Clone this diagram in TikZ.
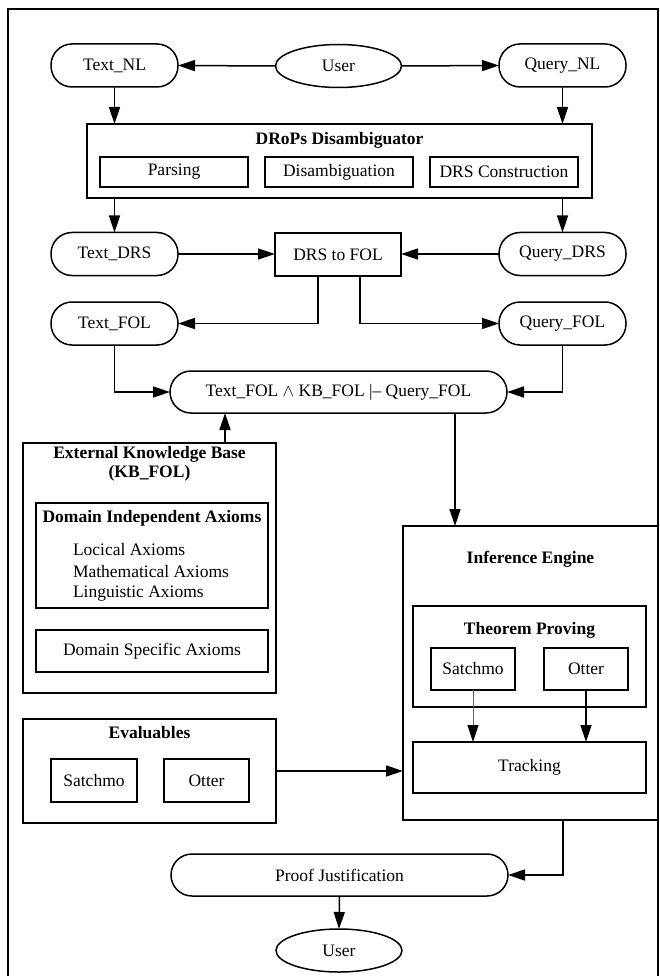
\documentclass[tikz,border=0pt]{standalone}
\usepackage{fontspec}
\setmainfont{Liberation Serif}
\usetikzlibrary{arrows.meta,shapes.geometric}

\begin{document}
\begin{tikzpicture}[x=1pt,y=-1pt,
  font=\fontsize{17.5}{19}\selectfont,
  every node/.style={inner sep=0pt, outer sep=0pt},
  arr/.style={line width=1.5pt, -{Triangle[length=17pt,width=11pt]}},
  pill/.style={draw, line width=1.5pt, rounded corners=21pt, minimum width=127pt, minimum height=43pt},
  oval/.style={draw, ellipse, line width=1.5pt, minimum width=126pt, minimum height=43pt},
  box/.style={draw, rectangle, line width=1.5pt},
  ttl/.style={font=\fontsize{17.5}{19}\selectfont\bfseries},
]
\useasboundingbox (0,0) rectangle (659,976);
\clip (0,0) rectangle (659,976);

% outer frame
\draw[line width=2pt] (8,990) -- (8,9) -- (657.5,9) -- (657.5,990);

% natural language inputs
\node[oval] (user) at (338.5,66) {User};
\node[pill] (textNL) at (114.5,65.5) {Text\_NL};
\node[pill] (queryNL) at (562.5,65.5) {Query\_NL};

% disambiguator
\node[box, minimum width=505pt, minimum height=74pt] (drops) at (339.5,161) {};
\node[ttl] (dropsT) at (339.5,140) {DRoPs Disambiguator};
\node[box, minimum width=148pt, minimum height=30pt] (parsing) at (174,172) {Parsing};
\node[box, minimum width=148pt, minimum height=30pt] (disamb) at (339,172) {Disambiguation};
\node[box, minimum width=148pt, minimum height=30pt] (drscons) at (504,172) {DRS Construction};

% DRS and FOL representations
\node[pill] (textDRS) at (114.5,254) {Text\_DRS};
\node[box, minimum width=126pt, minimum height=43pt] (drs2fol) at (338,254.5) {DRS to FOL};
\node[pill] (queryDRS) at (562.5,254) {Query\_DRS};
\node[pill] (textFOL) at (114.5,323.5) {Text\_FOL};
\node[pill] (queryFOL) at (562.5,323.5) {Query\_FOL};
\node[pill, minimum width=337pt, minimum height=42pt] (ent) at (338.5,392)
  {Text\_FOL $\wedge$ KB\_FOL |-- Query\_FOL};

% external knowledge base
\node[box, minimum width=253pt, minimum height=250pt] (kb) at (149.5,568) {};
\node[ttl, align=center] (kbT) at (149.5,464) {External Knowledge Base\\(KB\_FOL)};
\node[box, minimum width=232pt, minimum height=105pt] (di) at (152,555.5) {};
\node[ttl] (diT) at (152,518) {Domain Independent Axioms};
\node[anchor=west] (ax1) at (73,550) {Locical Axioms};
\node[anchor=west] (ax2) at (73,572) {Mathematical Axioms};
\node[anchor=west] (ax3) at (73,594) {Linguistic Axioms};
\node[box, minimum width=232pt, minimum height=42pt] (ds) at (152,651) {Domain Specific Axioms};

% evaluables
\node[box, minimum width=253pt, minimum height=104pt] (ev) at (149.5,771) {};
\node[ttl] (evT) at (149.5,733) {Evaluables};
\node[box, minimum width=86pt, minimum height=43pt] (evS) at (94,780.5) {Satchmo};
\node[box, minimum width=85pt, minimum height=43pt] (evO) at (206.5,780.5) {Otter};

% inference engine
\node[box, minimum width=255pt, minimum height=294pt] (ie) at (530.5,673) {};
\node[ttl] (ieT) at (530.5,559) {Inference Engine};
\node[box, minimum width=233pt, minimum height=101pt] (tp) at (529.5,656.5) {};
\node[ttl] (tpT) at (529.5,630) {Theorem Proving};
\node[box, minimum width=84pt, minimum height=42pt] (tpS) at (473,669) {Satchmo};
\node[box, minimum width=84pt, minimum height=42pt] (tpO) at (586,669) {Otter};
\node[box, minimum width=233pt, minimum height=51pt] (track) at (529.5,767.5) {Tracking};

% output
\node[pill, minimum width=337pt, minimum height=42pt] (proof) at (339.5,875) {Proof Justification};
\node[oval] (user2) at (339,950.5) {User};

% connector end points
\coordinate (kbout) at (225,443);
\coordinate (entout) at (455,413);
\coordinate (ieout) at (563,820);

% connectors
\draw[arr] (user.west) -- (textNL.east);
\draw[arr] (user.east) -- (queryNL.east -| queryNL.west);
\draw[arr] (textNL.south) -- (textNL.south |- drops.north);
\draw[arr] (queryNL.south) -- (queryNL.south |- drops.north);
\draw[arr] (textDRS.north |- drops.south) -- (textDRS.north);
\draw[arr] (queryDRS.north |- drops.south) -- (queryDRS.north);
\draw[arr] (textDRS.east) -- (drs2fol.west |- textDRS.east);
\draw[arr] (queryDRS.west) -- (drs2fol.east |- queryDRS.west);
\draw[arr] ([xshift=-20pt]drs2fol.south) |- (textFOL.east);
\draw[arr] ([xshift=22pt]drs2fol.south) |- (queryFOL.west);
\draw[arr] (textFOL.south) |- (ent.west);
\draw[arr] (queryFOL.south) |- (ent.east);
\draw[arr] (kbout) -- (kbout |- ent.south);
\draw[arr] (entout) -- (entout |- ie.north);
\draw[arr] (ev.east) -- (ev.east -| ie.west);
\draw[line width=1pt, draw=black!60, -{Triangle[length=17pt,width=11pt,color=black]}] (tpS.south) -- (tpS.south |- track.north);
\draw[arr] (tpO.south) -- (tpO.south |- track.north);
\draw[arr] (ieout) |- (proof.east);
\draw[arr] (proof.south) -- (user2.north);
\end{tikzpicture}
\end{document}
